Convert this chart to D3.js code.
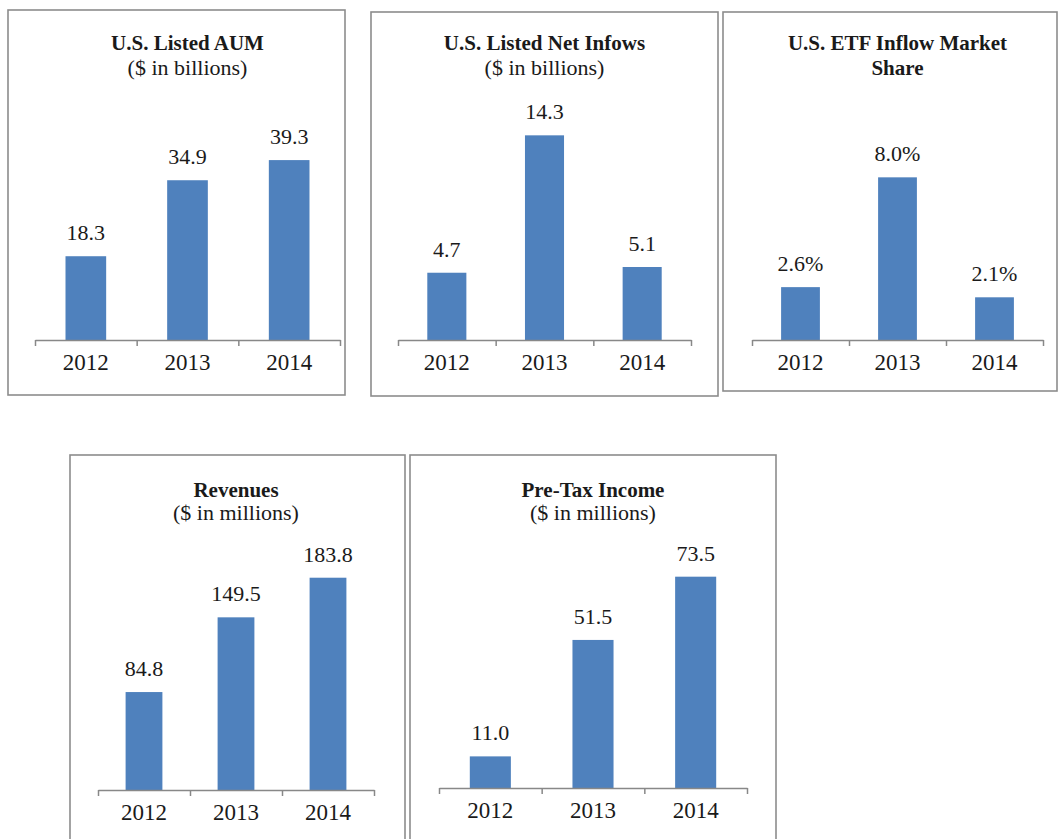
<!DOCTYPE html>
<html>
<head>
<meta charset="utf-8">
<script src="https://cdn.jsdelivr.net/npm/d3@7"></script>
<style>
  body { margin: 0; background: #fff; }
</style>
</head>
<body>
<script>
// categories and values
var years = ["2012", "2013", "2014"];
var aumValues = [18.3, 34.9, 39.3];
var inflowValues = [4.7, 14.3, 5.1];
var shareValues = [2.6, 8.0, 2.1];
var revenueValues = [84.8, 149.5, 183.8];
var pretaxValues = [11.0, 51.5, 73.5];

var aumTitle = ["U.S. Listed AUM", "($ in billions)"];
var inflowTitle = ["U.S. Listed Net Infows", "($ in billions)"];
var shareTitle = ["U.S. ETF Inflow Market", "Share"];
var revenueTitle = ["Revenues", "($ in millions)"];
var pretaxTitle = ["Pre-Tax Income", "($ in millions)"];

var FONT = "'Liberation Serif', 'DejaVu Serif', serif";
var fmt = d3.format(".1f");
var fmtPct = function(v) { return d3.format(".1f")(v) + "%"; };

var panels = [
  {title: aumTitle, bold: [true, false], values: aumValues, yMax: 45, fmt: fmt,
   box: [8, 10, 337, 385], axis: [35, 340, 340], plotH: 206, titleY: [50, 75]},
  {title: inflowTitle, bold: [true, false], values: inflowValues, yMax: 16, fmt: fmt,
   box: [371, 12, 347, 384], axis: [398, 691, 340], plotH: 229, titleY: [50, 75]},
  {title: shareTitle, bold: [true, true], values: shareValues, yMax: 9, fmt: fmtPct,
   box: [723, 12, 334, 379], axis: [752, 1043, 340], plotH: 183, titleY: [50, 75]},
  {title: revenueTitle, bold: [true, false], values: revenueValues, yMax: 200, fmt: fmt,
   box: [70, 455, 335, 420], axis: [98, 374, 790], plotH: 231, titleY: [497, 520]},
  {title: pretaxTitle, bold: [true, false], values: pretaxValues, yMax: 80, fmt: fmt,
   box: [410, 455, 366, 420], axis: [439, 747, 788], plotH: 230, titleY: [497, 520]}
];

var svg = d3.select("body").append("svg")
    .attr("width", 1062)
    .attr("height", 839);

panels.forEach(function(p) {
  var g = svg.append("g");
  var x0 = p.axis[0], x1 = p.axis[1], ay = p.axis[2];
  var cx = (x0 + x1) / 2;

  // cadre
  g.append("rect")
      .attr("x", p.box[0]).attr("y", p.box[1])
      .attr("width", p.box[2]).attr("height", p.box[3])
      .attr("fill", "none")
      .attr("stroke", "#8c8c8c")
      .attr("stroke-width", 1.6);

  // titre
  p.title.forEach(function(t, i) {
    g.append("text")
        .attr("x", cx)
        .attr("y", p.titleY[i])
        .attr("text-anchor", "middle")
        .attr("font-family", FONT)
        .attr("fill", "#1a1a1a")
        .attr("font-size", p.bold[i] ? "21px" : "22px")
        .attr("font-weight", p.bold[i] ? "bold" : "normal")
        .text(t);
  });

  var x = d3.scaleBand().domain(years).range([x0, x1])
      .paddingInner(0.6).paddingOuter(0.3);
  var y = d3.scaleLinear().domain([0, p.yMax]).range([ay, ay - p.plotH]);

  var data = years.map(function(yr, i) { return {year: yr, value: p.values[i]}; });

  g.selectAll(".bar")
      .data(data)
      .enter().append("rect")
      .attr("class", "bar")
      .attr("x", function(d) { return x(d.year); })
      .attr("width", x.bandwidth())
      .attr("y", function(d) { return y(d.value); })
      .attr("height", function(d) { return ay - y(d.value); })
      .attr("fill", "#4f81bd");

  g.selectAll(".val")
      .data(data)
      .enter().append("text")
      .attr("class", "val")
      .attr("x", function(d) { return x(d.year) + x.bandwidth() / 2; })
      .attr("y", function(d) { return y(d.value) - 16; })
      .attr("text-anchor", "middle")
      .attr("font-family", FONT)
      .attr("fill", "#1a1a1a")
      .attr("font-size", "22px")
      .text(function(d) { return p.fmt(d.value); });

  // axe avec traits aux limites des catégories
  var xt = d3.scaleLinear().domain([0, years.length]).range([x0, x1]);
  var axis = g.append("g")
      .attr("transform", "translate(0," + ay + ")")
      .call(d3.axisBottom(xt).tickValues([0, 1, 2, 3]).tickFormat("")
        .tickSizeInner(6).tickSizeOuter(0));
  axis.select(".domain").attr("stroke", "#888").attr("stroke-width", 1.5);
  axis.selectAll(".tick line").attr("stroke", "#888").attr("stroke-width", 1.5);

  g.selectAll(".yr")
      .data(years)
      .enter().append("text")
      .attr("class", "yr")
      .attr("x", function(d) { return x(d) + x.bandwidth() / 2; })
      .attr("y", ay + 30)
      .attr("text-anchor", "middle")
      .attr("font-family", FONT)
      .attr("fill", "#1a1a1a")
      .attr("font-size", "23px")
      .text(function(d) { return d; });
});
</script>
</body>
</html>
